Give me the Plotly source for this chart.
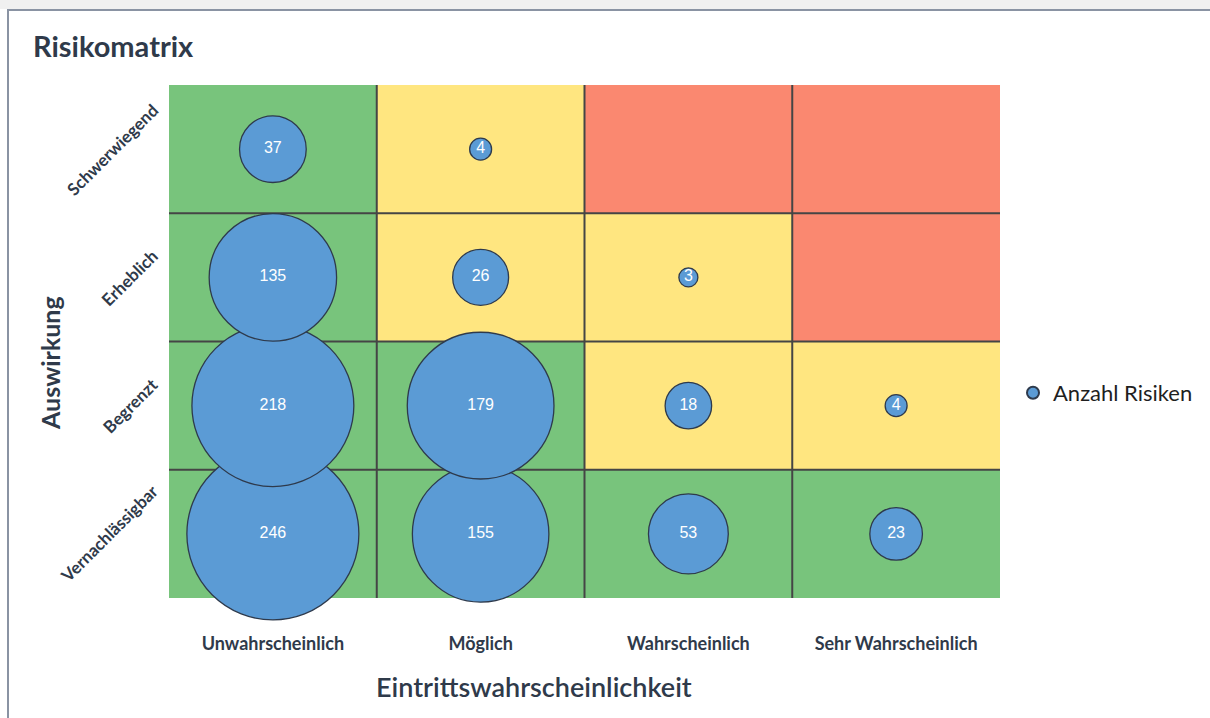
import plotly.graph_objects as go

# ---- data ----
likelihood = ["Unwahrscheinlich", "Möglich", "Wahrscheinlich", "Sehr Wahrscheinlich"]
impact = ["Vernachlässigbar", "Begrenzt", "Erheblich", "Schwerwiegend"]  # bottom -> top

# risk level per cell (0 = low/green, 1 = medium/yellow, 2 = high/red), rows bottom -> top
risk_level = [
    [0, 0, 0, 0],
    [0, 0, 1, 1],
    [0, 1, 1, 2],
    [0, 1, 2, 2],
]

# number of risks per cell (None = empty), rows bottom -> top
risk_counts = [
    [246, 155, 53, 23],
    [218, 179, 18, 4],
    [135, 26, 3, None],
    [37, 4, None, None],
]

series_name = "Anzahl Risiken"

# ---- styles ----
GREEN = "#78C47C"
YELLOW = "#FFE680"
RED = "#FA8870"
BLUE = "#5B9BD5"
EDGE = "#2E3A4C"
GRID = "#454545"
TXT = "#2F3A4A"
FONT = "Lato"

nx, ny = len(likelihood), len(impact)
xc = [i + 0.5 for i in range(nx)]
yc = [j + 0.5 for j in range(ny)]

fig = go.Figure()

# cell backgrounds
fig.add_trace(go.Heatmap(
    x=xc, y=yc, z=risk_level, zmin=0, zmax=2,
    colorscale=[[0, GREEN], [0.333, GREEN], [0.333, YELLOW], [0.667, YELLOW],
                [0.667, RED], [1, RED]],
    showscale=False, hoverinfo="skip",
))

# grid lines between cells
gx, gy = [], []
for k in range(1, nx):
    gx += [k, k, None]
    gy += [0, ny, None]
for k in range(1, ny):
    gx += [0, nx, None]
    gy += [k, k, None]
fig.add_trace(go.Scatter(x=gx, y=gy, mode="lines", line=dict(color=GRID, width=2),
                         hoverinfo="skip", showlegend=False))

# bubbles
bx, by, bv = [], [], []
for j, row in enumerate(risk_counts):
    for i, v in enumerate(row):
        if v is not None:
            bx.append(xc[i]); by.append(yc[j]); bv.append(v)

max_diam = 172
fig.add_trace(go.Scatter(
    x=bx, y=by, mode="markers+text", name=series_name,
    text=[str(v) for v in bv], textposition="middle center",
    textfont=dict(family="Liberation Sans, Arial", size=16, color="white"),
    marker=dict(size=bv, sizemode="area", sizeref=2.0 * max(bv) / max_diam ** 2,
                color=BLUE, line=dict(color=EDGE, width=1.3), opacity=1),
    cliponaxis=False, showlegend=True,
))

# layout geometry (pixels)
W, H = 1210, 718
L, R, T, B = 169, 210, 85, 120
pw, ph = W - L - R, H - T - B
def px(x): return (x - L) / pw
def py(y): return (H - B - y) / ph

annotations = []
# y category labels, rotated
for j, lab in enumerate(impact):
    annotations.append(dict(
        text=lab, x=px(165), xref="paper", y=yc[j], yref="y",
        xanchor="right", yanchor="middle", textangle=-45, showarrow=False,
        font=dict(family=FONT, size=17, color=TXT, weight="bold"),
    ))
# axis titles
annotations.append(dict(text="Auswirkung", x=px(50), y=py(363), xref="paper", yref="paper",
                        textangle=-90, showarrow=False, xanchor="center", yanchor="middle",
                        font=dict(family=FONT, size=25, color=TXT, weight="bold")))
annotations.append(dict(text="Eintrittswahrscheinlichkeit", x=px(534), y=py(686),
                        xref="paper", yref="paper", showarrow=False,
                        xanchor="center", yanchor="middle",
                        font=dict(family=FONT, size=27, color=TXT, weight=600)))

shapes = [
    # light strip at very top
    dict(type="rect", xref="paper", yref="paper", x0=px(-5), x1=px(W + 5), y0=py(-5), y1=py(9),
         fillcolor="#F0F0F0", line=dict(width=0), layer="below"),
    # frame
    dict(type="rect", xref="paper", yref="paper", x0=px(8), x1=px(W + 20), y0=py(H + 20), y1=py(10),
         line=dict(color="#8A93A3", width=2), fillcolor="rgba(0,0,0,0)"),
]

fig.update_layout(
    width=W, height=H,
    margin=dict(l=L, r=R, t=T, b=B, autoexpand=False),
    paper_bgcolor="white", plot_bgcolor="white",
    title=dict(text="<b>Risikomatrix</b>", x=33 / W, xanchor="left", y=1 - 47 / H, yanchor="middle",
               font=dict(family=FONT, size=29, color=TXT)),
    xaxis=dict(range=[0, nx], tickvals=xc, ticktext=likelihood, showgrid=False, zeroline=False,
               showline=False, ticks="outside", ticklen=29, tickcolor="rgba(0,0,0,0)",
               tickfont=dict(family=FONT, size=18, color=TXT, weight="bold"), fixedrange=True),
    yaxis=dict(range=[0, ny], tickvals=yc, showticklabels=False, showgrid=False, zeroline=False,
               showline=False, ticks="", fixedrange=True),
    legend=dict(x=px(1013), xanchor="left", y=py(393), yanchor="middle",
                font=dict(family=FONT, size=22, color="#1F1F1F"), itemsizing="constant",
                bgcolor="rgba(0,0,0,0)"),
    annotations=annotations, shapes=shapes,
    showlegend=True,
)

fig.write_html("out.html", config={"displayModeBar": False},
               post_script="document.body.style.margin='0';document.body.style.overflow='hidden';")
